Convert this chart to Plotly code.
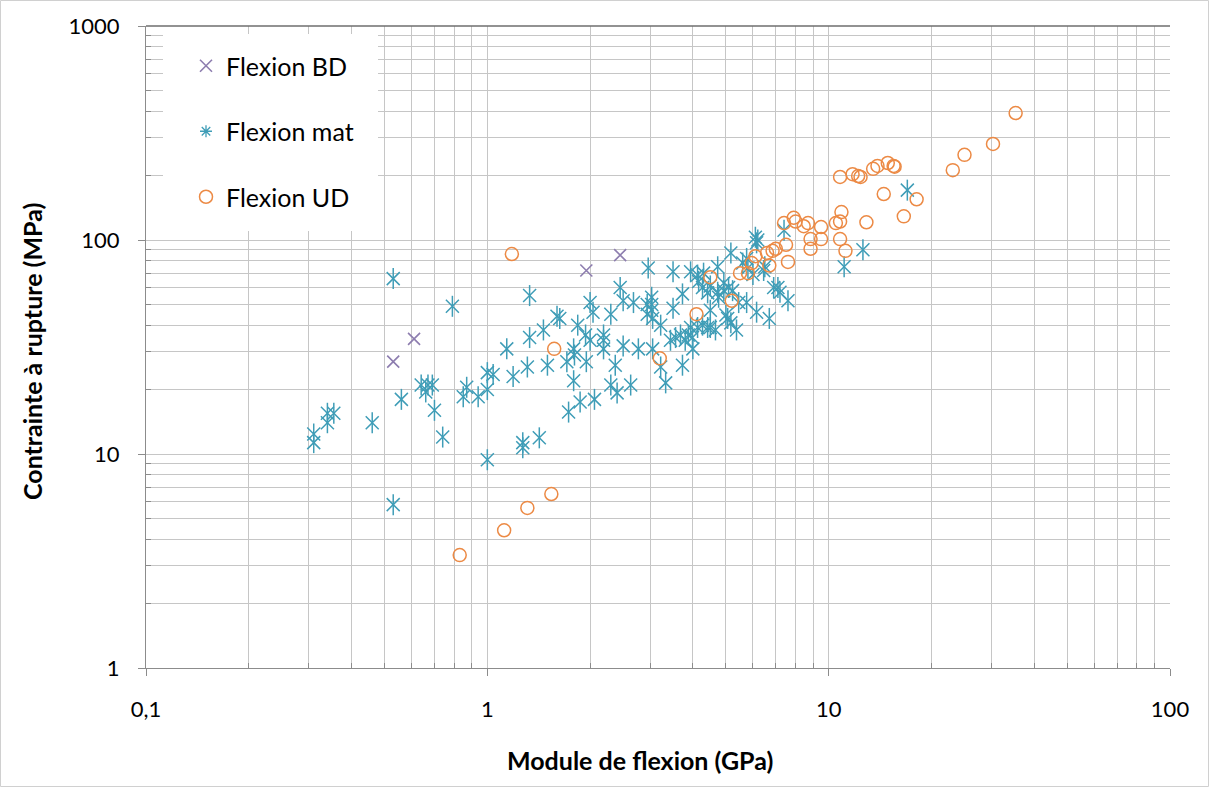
import plotly.graph_objects as go

# Flexion BD : module (GPa), contrainte (MPa)
bd_module = [0.53, 0.61, 1.95, 2.45]
bd_contrainte = [27, 34.5, 72, 85]

# Flexion mat
mat_module = [
    0.31, 0.31, 0.34, 0.355, 0.34, 0.46, 0.53, 0.53, 0.79, 0.56, 0.64, 0.67, 0.69, 0.66,
    0.70, 0.74, 0.85, 0.87, 0.94, 1.0, 1.04, 1.0, 1.0, 1.14,
    1.33, 1.60, 1.63, 1.46, 1.33, 1.19, 1.31, 1.5, 1.71, 1.79, 1.8, 1.84, 1.94, 2.0, 1.95,
    2.0, 2.04, 1.79, 1.87, 1.73, 2.06, 2.3, 2.19, 2.19, 2.19, 2.37, 2.3, 2.4, 2.63, 2.5,
    2.45, 2.5, 2.68, 2.77, 2.96, 2.94, 2.94,
    1.27, 1.27, 1.42,
    3.03, 3.03, 3.03, 3.05, 3.22, 3.05, 3.33, 3.22, 3.5, 3.5, 3.73, 3.73,
    3.44, 3.56, 3.68, 3.8, 3.88, 3.99, 4.0,
    3.94, 4.13, 4.27, 4.42,
    3.94, 4.13, 4.16, 4.30,
    4.27, 4.5, 4.5,
    4.42, 4.73, 4.76, 4.93, 4.73,
    4.5, 4.66,
    5.0, 5.06, 5.17,
    4.93, 5.09, 5.23, 5.17, 5.37, 5.45, 5.75, 6.15, 6.7,
    6.9, 7.1, 7.2, 7.6,
    6.1, 6.15, 6.2,
    5.6, 5.75, 5.8, 6.45, 6.5, 6.0,
    7.4, 12.6, 11.1, 17.0,
]
mat_contrainte = [
    12.4, 11.3, 15.5, 15.5, 14, 14, 66, 5.8, 49, 18, 21, 21, 21, 19.5,
    16, 12, 18.5, 20.5, 18.5, 24, 23.5, 20, 9.4, 31,
    55, 44, 43, 38, 35, 23, 25.5, 26, 27, 31, 29, 40, 36, 34, 27,
    51, 46, 22, 17.5, 15.7, 18, 45, 36, 34, 31, 26, 21, 19.3, 21, 32,
    60, 52, 51, 31, 74, 50, 45,
    11.3, 10.7, 11.9,
    54, 50, 47, 43, 40, 31, 21.5, 25.5, 71, 48, 56, 26,
    34, 35, 36, 34, 36, 35, 31,
    39, 39, 40, 39,
    71, 68.6, 64, 70,
    60, 61, 47,
    56.6, 57, 54, 58, 75,
    39, 38,
    44.6, 43, 41,
    63, 60, 58, 87, 38, 51, 51, 46, 43,
    60, 60, 57, 52,
    103, 97, 100,
    78, 82, 74, 72, 75, 69,
    111, 90, 75, 171,
]

# Flexion UD
ud_module = [
    0.83, 1.12, 1.31, 1.54, 1.18, 1.57, 3.2, 4.1, 4.5, 5.2, 5.5, 5.8, 5.95, 6.1, 6.6, 6.85,
    7.0, 6.7, 7.5, 7.6, 7.4, 7.9, 8.0, 8.45, 8.7, 9.5, 8.85, 8.85, 9.5, 10.5, 10.8, 10.9,
    10.8, 11.2, 12.9, 10.8, 11.75, 12.2, 12.4, 13.5, 13.9, 14.9, 15.5, 15.6, 14.5, 18.1,
    16.6, 23.1, 25.0, 30.3, 35.3,
]
ud_contrainte = [
    3.37, 4.4, 5.6, 6.5, 86, 31, 28, 45, 67, 52, 70, 70, 78, 84, 87, 89,
    91, 76, 95, 79, 120, 127, 122, 116, 120, 115, 101, 91, 101, 120, 122, 135,
    101, 89, 121, 197, 203, 199, 197, 215, 222, 229, 222, 220, 164, 155,
    129, 212, 250, 281, 392,
]

x_major = [0.1, 1, 10, 100]
x_major_text = ["0,1", "1", "10", "100"]
y_major = [1, 10, 100, 1000]
y_major_text = ["1", "10", "100", "1000"]

C_BD = "#8d7daf"
C_MAT = "#3f9db7"
C_UD = "#ec8a45"
GRID = "#c6c6c6"
FONT = "Lato"


def minor_vals(lo_exp, hi_exp):
    return [m * 10 ** e for e in range(lo_exp, hi_exp) for m in range(2, 10)]


fig = go.Figure()

fig.add_trace(go.Scatter(
    x=bd_module, y=bd_contrainte, mode="markers", name="Flexion BD",
    legendgroup="bd",
    marker=dict(symbol="x-thin-open", size=12, color=C_BD, line=dict(width=1.6, color=C_BD)),
))

# star marker for "mat": diagonal cross plus vertical stroke
fig.add_trace(go.Scatter(
    x=mat_module, y=mat_contrainte, mode="markers", name="Flexion mat",
    legendgroup="mat", showlegend=False,
    marker=dict(symbol="x-thin-open", size=13, color=C_MAT, line=dict(width=1.5, color=C_MAT)),
))
fig.add_trace(go.Scatter(
    x=mat_module, y=mat_contrainte, mode="markers", name="Flexion mat",
    legendgroup="mat", showlegend=False,
    marker=dict(symbol="line-ns-open", size=15, color=C_MAT, line=dict(width=1.5, color=C_MAT)),
))
fig.add_trace(go.Scatter(
    x=[None], y=[None], mode="markers", name="Flexion mat",
    legendgroup="mat",
    marker=dict(symbol="asterisk-open", size=10, color=C_MAT, line=dict(width=1.3, color=C_MAT)),
))

fig.add_trace(go.Scatter(
    x=ud_module, y=ud_contrainte, mode="markers", name="Flexion UD",
    legendgroup="ud",
    marker=dict(symbol="circle-open", size=13, color=C_UD, line=dict(width=1.5, color=C_UD)),
))

axis_common = dict(
    type="log",
    tickmode="array",
    showgrid=True, gridcolor=GRID, gridwidth=1.2,
    showline=True, linecolor="#8c8c8c", linewidth=1.2,
    ticks="outside", ticklen=7, tickcolor="#8c8c8c", tickwidth=1.2,
    tickfont=dict(family=FONT, size=22, color="#000000"),
    zeroline=False,
)

fig.update_xaxes(
    **axis_common,
    range=[-1, 2],
    tickvals=x_major, ticktext=x_major_text,
    ticklabelstandoff=14,
    minor=dict(tickmode="array", tickvals=minor_vals(-1, 2), showgrid=True,
               gridcolor=GRID, gridwidth=1.2, ticks="inside", ticklen=5, tickcolor="#8c8c8c"),
)
fig.update_yaxes(
    **axis_common,
    range=[0, 3],
    tickvals=y_major, ticktext=y_major_text,
    ticklabelstandoff=14,
    minor=dict(tickmode="array", tickvals=minor_vals(0, 3), showgrid=True,
               gridcolor=GRID, gridwidth=1.2, ticks="inside", ticklen=5, tickcolor="#8c8c8c"),
)

W, H = 1209, 787
L, R, T, B = 146, 39, 26, 119
pw, ph = W - L - R, H - T - B


def px(xp):
    return (xp - L) / pw


def py(yp):
    return (H - B - yp) / ph


shapes = [
    # white legend panel
    dict(type="rect", xref="paper", yref="paper", x0=px(163), x1=px(378), y0=py(231), y1=py(34),
         fillcolor="white", line=dict(width=0), layer="above"),
    # top frame line
    dict(type="line", xref="paper", yref="paper", x0=0, x1=1, y0=1, y1=1,
         line=dict(color="#6e6e6e", width=1.3), layer="above"),
    # outer chart border
    dict(type="rect", xref="paper", yref="paper", x0=px(0.5), x1=px(1208.5), y0=py(786.5), y1=py(0.5),
         line=dict(color="#d0d0d0", width=1), fillcolor="rgba(0,0,0,0)", layer="above"),
]

annotations = [
    dict(text="<b>Module de flexion (GPa)</b>", xref="paper", yref="paper",
         x=px(640), y=py(760), xanchor="center", yanchor="middle", showarrow=False,
         font=dict(family=FONT, size=25, color="#000000")),
    dict(text="<b>Contrainte à rupture (MPa)</b>", xref="paper", yref="paper",
         x=px(32), y=py(352), xanchor="center", yanchor="middle", showarrow=False, textangle=-90,
         font=dict(family=FONT, size=25, color="#000000")),
]

fig.update_layout(
    width=W, height=H,
    margin=dict(l=L, r=R, t=T, b=B, autoexpand=False),
    paper_bgcolor="white", plot_bgcolor="white",
    showlegend=True,
    legend=dict(
        x=px(186), y=py(43), xanchor="left", yanchor="top",
        bgcolor="rgba(0,0,0,0)", borderwidth=0,
        font=dict(family=FONT, size=25, color="#000000"),
        traceorder="grouped", tracegroupgap=30, itemsizing="trace",
    ),
    shapes=shapes,
    annotations=annotations,
    font=dict(family=FONT),
)

fig.write_html("out.html")
